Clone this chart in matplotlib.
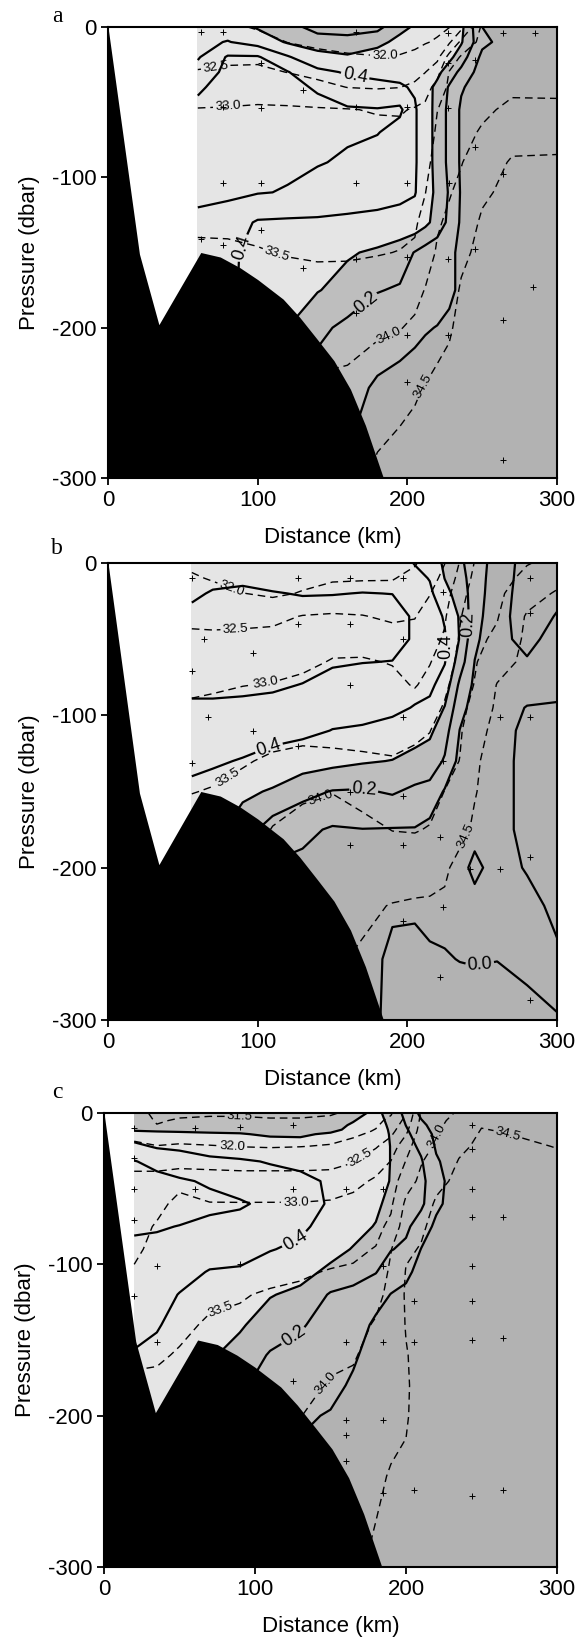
import numpy as np
import matplotlib.pyplot as plt

plt.rcParams['font.family'] = ['Liberation Sans', 'DejaVu Sans']
plt.rcParams['axes.unicode_minus'] = False
plt.rcParams['lines.dashed_pattern'] = [5.5, 3.5]

# shelf bottom profile (distance km, pressure dbar)
bottom_km = [0, 21, 34, 62, 75, 88, 100, 117, 128, 140, 151, 162, 172, 184]
bottom_db = [0, -151, -198, -150, -153, -160, -168, -181, -193, -208, -222, -241, -265, -300]

chl_labelled = [0.0, 0.2, 0.4]
chl_plain = [0.1, 0.3, 0.5]
sal_levels = [31.5, 32.0, 32.5, 33.0, 33.5, 34.0, 34.5]
shade_levels = [-1, 0.1, 0.3, 1]
shade_colors = ['#b2b2b2', '#bebebe', '#e5e5e5']

# ---------------- section a ----------------
xa = [60, 80, 100, 120, 140, 160, 180, 195, 205, 212, 220, 228, 236, 250, 270, 300]
pa = [0, -10, -20, -30, -40, -55, -70, -90, -110, -130, -150, -175, -200, -240, -300]
# rows: one per pressure level
chl_a = np.array([
    [0.35, 0.35, 0.29, 0.25, 0.15, 0.14, 0.17, 0.275, 0.31, 0.35, 0.35, 0.35, 0.325, 0.1, 0.05, 0.05],
    [0.375, 0.405, 0.36, 0.29, 0.265, 0.25, 0.275, 0.325, 0.35, 0.35, 0.35, 0.35, 0.31, 0.125, 0.05, 0.05],
    [0.39, 0.51, 0.51, 0.41, 0.325, 0.31, 0.34, 0.35, 0.35, 0.35, 0.35, 0.325, 0.25, 0.075, 0.05, 0.05],
    [0.44, 0.525, 0.525, 0.505, 0.425, 0.39, 0.375, 0.375, 0.375, 0.35, 0.325, 0.25, 0.175, 0.05, 0.05, 0.05],
    [0.485, 0.54, 0.55, 0.525, 0.49, 0.44, 0.425, 0.41, 0.39, 0.34, 0.275, 0.19, 0.11, 0.05, 0.05, 0.05],
    [0.525, 0.55, 0.55, 0.55, 0.525, 0.51, 0.505, 0.52, 0.41, 0.35, 0.265, 0.175, 0.085, 0.05, 0.05, 0.05],
    [0.55, 0.55, 0.55, 0.54, 0.525, 0.51, 0.505, 0.46, 0.41, 0.35, 0.265, 0.175, 0.085, 0.05, 0.05, 0.05],
    [0.54, 0.535, 0.525, 0.515, 0.505, 0.49, 0.45, 0.43, 0.41, 0.35, 0.265, 0.175, 0.085, 0.05, 0.05, 0.05],
    [0.525, 0.52, 0.505, 0.495, 0.47, 0.45, 0.435, 0.42, 0.405, 0.35, 0.275, 0.19, 0.09, 0.05, 0.05, 0.05],
    [0.475, 0.45, 0.39, 0.385, 0.385, 0.38, 0.375, 0.37, 0.365, 0.325, 0.26, 0.175, 0.085, 0.05, 0.05, 0.05],
    [0.45, 0.425, 0.36, 0.35, 0.335, 0.31, 0.285, 0.25, 0.195, 0.16, 0.14, 0.11, 0.09, 0.05, 0.05, 0.05],
    [0.45, 0.425, 0.35, 0.31, 0.305, 0.265, 0.205, 0.19, 0.16, 0.145, 0.13, 0.115, 0.085, 0.05, 0.05, 0.05],
    [0.45, 0.4, 0.325, 0.3, 0.225, 0.175, 0.14, 0.125, 0.115, 0.105, 0.098, 0.085, 0.07, 0.05, 0.05, 0.05],
    [0.45, 0.4, 0.3, 0.25, 0.15, 0.125, 0.09, 0.08, 0.07, 0.065, 0.06, 0.06, 0.055, 0.05, 0.05, 0.05],
    [0.4, 0.35, 0.25, 0.2, 0.12, 0.09, 0.07, 0.06, 0.05, 0.05, 0.05, 0.05, 0.05, 0.05, 0.05, 0.05],
])
# one profile per station distance
sal_a = np.array([
    [32.1, 32.25, 32.4, 32.52, 32.75, 33.02, 33.1, 33.2, 33.33, 33.45, 33.55, 33.7, 33.8, 34.0, 34.2],
    [32.1, 32.25, 32.4, 32.58, 32.8, 33.03, 33.1, 33.2, 33.32, 33.44, 33.55, 33.7, 33.85, 34.0, 34.2],
    [31.95, 32.2, 32.4, 32.6, 32.83, 33.05, 33.12, 33.22, 33.32, 33.42, 33.52, 33.7, 33.85, 34.0, 34.2],
    [31.8, 31.99, 32.25, 32.49, 32.77, 33.05, 33.12, 33.2, 33.3, 33.38, 33.48, 33.65, 33.85, 34.0, 34.2],
    [31.7, 31.88, 32.15, 32.37, 32.63, 33.04, 33.1, 33.18, 33.26, 33.35, 33.45, 33.65, 33.85, 34.05, 34.2],
    [31.6, 31.8, 32.07, 32.28, 32.49, 33.02, 33.1, 33.18, 33.28, 33.38, 33.47, 33.6, 33.8, 34.12, 34.3],
    [31.6, 31.8, 32.02, 32.25, 32.46, 32.97, 33.1, 33.2, 33.3, 33.4, 33.48, 33.7, 33.93, 34.25, 34.6],
    [31.7, 31.85, 32.03, 32.28, 32.49, 32.95, 33.12, 33.22, 33.32, 33.4, 33.51, 33.75, 33.98, 34.35, 34.7],
    [31.75, 31.9, 32.1, 32.33, 32.6, 33.05, 33.18, 33.28, 33.36, 33.45, 33.55, 33.85, 34.08, 34.45, 34.7],
    [31.85, 31.97, 32.22, 32.49, 32.83, 33.1, 33.2, 33.35, 33.49, 33.63, 33.78, 34.02, 34.2, 34.52, 34.75],
    [31.9, 32.05, 32.35, 32.85, 33.15, 33.49, 33.58, 33.7, 33.83, 33.95, 34.05, 34.2, 34.35, 34.6, 34.8],
    [31.98, 32.42, 33.2, 33.52, 33.6, 33.68, 33.76, 33.86, 33.97, 34.08, 34.18, 34.3, 34.45, 34.65, 34.8],
    [32.35, 33.12, 33.55, 33.62, 33.7, 33.8, 33.88, 33.98, 34.1, 34.25, 34.4, 34.55, 34.62, 34.72, 34.85],
    [33.6, 33.65, 33.72, 33.78, 33.85, 33.93, 34.04, 34.25, 34.43, 34.56, 34.62, 34.68, 34.72, 34.78, 34.85],
    [33.7, 33.75, 33.8, 33.86, 33.93, 34.08, 34.3, 34.55, 34.62, 34.66, 34.7, 34.72, 34.75, 34.8, 34.85],
    [33.7, 33.75, 33.8, 33.86, 33.93, 34.07, 34.3, 34.57, 34.62, 34.66, 34.7, 34.72, 34.75, 34.8, 34.85],
]).T
stations_a_km = [62, 77, 102, 130, 77, 102, 166, 200, 227, 166, 227, 264, 285, 227, 245,
                 77, 102, 166, 200, 228, 245, 264, 62, 77, 102, 130, 166, 200, 227, 245,
                 166, 200, 227, 264, 284, 200, 264]
stations_a_db = [-3, -3, -24, -42, -53, -54, -53, -53, -54, -3, -4, -4, -4, -24, -22,
                 -104, -104, -104, -104, -104, -80, -98, -141, -145, -135, -160, -154, -153, -154, -148,
                 -190, -205, -205, -195, -173, -236, -288]

# ---------------- section b ----------------
xb = [56, 70, 90, 110, 130, 150, 170, 190, 205, 215, 225, 235, 245, 260, 280, 300]
pb = [0, -10, -20, -35, -50, -65, -80, -95, -110, -130, -150, -175, -200, -225, -260, -300]
chl_b = np.array([
    [0.42, 0.45, 0.48, 0.53, 0.55, 0.55, 0.53, 0.48, 0.45, 0.42, 0.38, 0.35, 0.33, 0.31, 0.31, 0.31],
    [0.44, 0.47, 0.51, 0.55, 0.56, 0.55, 0.53, 0.48, 0.45, 0.41, 0.37, 0.33, 0.31, 0.31, 0.31, 0.31],
    [0.45, 0.48, 0.52, 0.56, 0.57, 0.56, 0.53, 0.47, 0.44, 0.395, 0.32, 0.25, 0.19, 0.14, 0.09, 0.09],
    [0.44, 0.47, 0.505, 0.55, 0.56, 0.55, 0.515, 0.47, 0.43, 0.37, 0.29, 0.15, 0.09, 0.08, 0.08, 0.08],
    [0.43, 0.46, 0.495, 0.54, 0.55, 0.54, 0.497, 0.46, 0.42, 0.35, 0.23, 0.12, 0.08, 0.07, 0.07, 0.07],
    [0.43, 0.46, 0.497, 0.54, 0.55, 0.51, 0.47, 0.43, 0.398, 0.33, 0.195, 0.09, 0.07, 0.06, 0.06, 0.06],
    [0.44, 0.47, 0.502, 0.54, 0.54, 0.502, 0.46, 0.43, 0.39, 0.31, 0.19, 0.098, 0.07, 0.06, 0.06, 0.06],
    [0.46, 0.48, 0.499, 0.53, 0.53, 0.498, 0.46, 0.42, 0.37, 0.297, 0.21, 0.095, 0.05, 0.02, -0.03, -0.04],
    [0.395, 0.43, 0.46, 0.49, 0.49, 0.46, 0.43, 0.395, 0.34, 0.27, 0.18, 0.095, 0.04, 0.01, -0.02, -0.04],
    [0.37, 0.395, 0.42, 0.45, 0.46, 0.45, 0.42, 0.38, 0.32, 0.25, 0.17, 0.07, 0.03, 0.02, -0.01, -0.04],
    [0.28, 0.298, 0.33, 0.39, 0.41, 0.405, 0.36, 0.295, 0.24, 0.19, 0.09, 0.05, 0.04, 0.02, -0.005, -0.04],
    [0.22, 0.24, 0.26, 0.29, 0.295, 0.25, 0.18, 0.135, 0.098, 0.07, 0.05, 0.05, 0.04, 0.02, 0.002, -0.04],
    [0.15, 0.15, 0.15, 0.14, 0.12, 0.098, 0.08, 0.06, 0.05, 0.05, 0.05, 0.04, -0.03, 0.04, 0.005, -0.04],
    [0.06, 0.05, 0.04, 0.03, 0.03, 0.04, 0.05, 0.05, 0.05, 0.05, 0.05, 0.05, 0.05, 0.04, 0.002, -0.05],
    [-0.04, -0.04, -0.04, -0.04, -0.03, 0.01, 0.05, -0.005, -0.03, -0.04, -0.04, -0.04, -0.01, 0.04, 0.03, -0.04],
    [-0.04, -0.03, -0.02, 0.005, 0.04, 0.05, 0.03, -0.01, -0.03, -0.04, -0.04, -0.04, -0.04, -0.03, 0.02, -0.003],
]).T
sal_b = np.array([
    [31.95, 32.03, 32.13, 32.38, 32.6, 32.78, 32.93, 33.05, 33.2, 33.37, 33.49, 33.65, 33.8, 33.9, 33.98, 34.1],
    [31.9, 31.98, 32.08, 32.35, 32.6, 32.8, 32.95, 33.08, 33.22, 33.4, 33.52, 33.67, 33.8, 33.9, 33.98, 34.1],
    [31.8, 31.88, 32.01, 32.38, 32.6, 32.8, 32.99, 33.15, 33.3, 33.47, 33.6, 33.75, 33.85, 33.95, 34.05, 34.1],
    [31.75, 31.82, 31.92, 32.38, 32.65, 32.85, 33.02, 33.2, 33.38, 33.55, 33.8, 34.02, 34.1, 34.2, 34.3, 34.4],
    [31.8, 31.88, 32.03, 32.52, 32.75, 32.9, 33.1, 33.25, 33.42, 33.58, 33.95, 34.1, 34.2, 34.3, 34.4, 34.45],
    [31.85, 31.95, 32.15, 32.55, 32.85, 33.03, 33.15, 33.27, 33.42, 33.56, 33.99, 34.15, 34.3, 34.4, 34.45, 34.52],
    [31.88, 31.97, 32.15, 32.52, 32.85, 33.04, 33.15, 33.27, 33.39, 33.55, 33.86, 34.12, 34.28, 34.42, 34.55, 34.6],
    [31.9, 31.98, 32.12, 32.42, 32.7, 32.98, 33.1, 33.22, 33.35, 33.53, 33.72, 33.99, 34.25, 34.52, 34.6, 34.65],
    [31.97, 32.1, 32.25, 32.48, 32.65, 32.82, 32.97, 33.18, 33.43, 33.58, 33.75, 33.97, 34.3, 34.55, 34.62, 34.67],
    [32.15, 32.3, 32.48, 32.7, 32.85, 32.98, 33.12, 33.32, 33.49, 33.63, 33.8, 34.03, 34.35, 34.55, 34.62, 34.67],
    [32.49, 32.65, 32.8, 32.95, 33.05, 33.2, 33.4, 33.55, 33.68, 33.8, 34.01, 34.25, 34.45, 34.55, 34.62, 34.67],
    [33.02, 33.15, 33.3, 33.45, 33.55, 33.65, 33.75, 33.85, 33.93, 34.01, 34.15, 34.4, 34.6, 34.65, 34.68, 34.7],
    [33.52, 33.62, 33.72, 33.85, 33.9, 33.96, 34.02, 34.15, 34.35, 34.45, 34.48, 34.55, 34.62, 34.67, 34.7, 34.72],
    [33.8, 33.85, 33.9, 33.97, 34.08, 34.3, 34.52, 34.58, 34.62, 34.65, 34.67, 34.68, 34.7, 34.7, 34.72, 34.72],
    [33.98, 34.1, 34.3, 34.55, 34.6, 34.62, 34.64, 34.66, 34.67, 34.68, 34.69, 34.7, 34.7, 34.71, 34.72, 34.72],
    [34.1, 34.35, 34.55, 34.6, 34.62, 34.64, 34.66, 34.67, 34.68, 34.69, 34.7, 34.7, 34.71, 34.72, 34.72, 34.72],
]).T
stations_b_km = [56, 64, 56, 97, 127, 127, 162, 162, 162, 197, 197, 197, 224, 224, 222, 224, 222,
                 67, 56, 97, 127, 162, 162, 197, 197, 197, 242, 262, 282, 282, 282, 282, 262, 282]
stations_b_db = [-10, -50, -71, -59, -40, -10, -10, -40, -80, -10, -50, -101, -19, -130, -180, -226, -272,
                 -101, -131, -110, -120, -150, -185, -153, -185, -235, -201, -201, -193, -101, -33, -10, -101, -287]

# ---------------- section c ----------------
xc = [20, 35, 50, 70, 90, 110, 130, 150, 165, 180, 190, 200, 210, 220, 235, 250, 270, 300]
pc_chl = [0, -8, -11, -14, -22, -32, -45, -60, -75, -90, -105, -120, -140, -160, -180, -200, -240, -300]
pc_sal = [0, -5, -12, -22, -32, -45, -60, -75, -90, -105, -120, -140, -160, -180, -200, -240, -300]
chl_c = np.array([
    [0.26, 0.27, 0.28, 0.36, 0.42, 0.505, 0.55, 0.56, 0.52, 0.47, 0.45, 0.44, 0.42, 0.395, 0.35, 0.31, 0.31, 0.31],
    [0.26, 0.27, 0.28, 0.33, 0.39, 0.47, 0.53, 0.56, 0.51, 0.47, 0.45, 0.43, 0.41, 0.37, 0.34, 0.31, 0.31, 0.31],
    [0.26, 0.27, 0.28, 0.32, 0.38, 0.45, 0.51, 0.55, 0.497, 0.46, 0.43, 0.397, 0.36, 0.33, 0.32, 0.31, 0.31, 0.31],
    [0.26, 0.27, 0.28, 0.31, 0.36, 0.42, 0.49, 0.52, 0.48, 0.44, 0.395, 0.37, 0.34, 0.31, 0.31, 0.31, 0.31, 0.31],
    [0.26, 0.27, 0.28, 0.305, 0.35, 0.41, 0.46, 0.51, 0.47, 0.43, 0.39, 0.36, 0.31, 0.27, 0.22, 0.18, 0.15, 0.15],
    [0.26, 0.27, 0.28, 0.29, 0.34, 0.395, 0.43, 0.48, 0.44, 0.405, 0.35, 0.305, 0.26, 0.19, 0.15, 0.12, 0.09, 0.09],
    [0.26, 0.27, 0.28, 0.29, 0.33, 0.38, 0.42, 0.44, 0.42, 0.38, 0.33, 0.28, 0.21, 0.17, 0.14, 0.11, 0.08, 0.08],
    [0.26, 0.27, 0.28, 0.31, 0.34, 0.37, 0.39, 0.39, 0.36, 0.33, 0.28, 0.19, 0.16, 0.14, 0.12, 0.095, 0.07, 0.06],
    [0.27, 0.31, 0.32, 0.34, 0.35, 0.36, 0.37, 0.36, 0.33, 0.295, 0.23, 0.18, 0.14, 0.11, 0.09, 0.07, 0.06, 0.05],
    [0.32, 0.335, 0.34, 0.345, 0.35, 0.35, 0.34, 0.32, 0.295, 0.25, 0.205, 0.13, 0.085, 0.07, 0.06, 0.05, 0.05, 0.05],
    [0.27, 0.285, 0.29, 0.293, 0.297, 0.297, 0.295, 0.27, 0.24, 0.205, 0.14, 0.098, 0.07, 0.06, 0.05, 0.05, 0.05, 0.05],
    [0.17, 0.198, 0.21, 0.22, 0.24, 0.26, 0.27, 0.25, 0.22, 0.18, 0.12, 0.08, 0.06, 0.05, 0.05, 0.05, 0.05, 0.05],
    [0.08, 0.12, 0.135, 0.15, 0.18, 0.21, 0.23, 0.22, 0.15, 0.098, 0.07, 0.06, 0.05, 0.05, 0.05, 0.05, 0.05, 0.05],
    [0.05, 0.065, 0.07, 0.08, 0.09, 0.11, 0.13, 0.12, 0.08, 0.06, 0.05, 0.05, 0.05, 0.05, 0.05, 0.05, 0.05, 0.05],
    [0.05] * 18,
    [0.05] * 18,
    [0.05] * 18,
    [0.05] * 18,
]).T
sal_c = np.array([
    [31.75, 31.8, 31.9, 32.05, 32.4, 32.6, 32.7, 32.8, 32.9, 33.05, 33.2, 33.35, 33.45, 33.55, 33.65, 33.8, 33.98],
    [31.35, 31.45, 31.6, 32.02, 32.35, 32.65, 32.85, 33.05, 33.15, 33.25, 33.32, 33.4, 33.47, 33.55, 33.65, 33.8, 33.98],
    [31.4, 31.55, 31.75, 32.05, 32.3, 32.85, 33.15, 33.22, 33.28, 33.33, 33.38, 33.45, 33.52, 33.6, 33.7, 33.85, 33.98],
    [31.42, 31.6, 31.75, 32.02, 32.32, 32.75, 33.02, 33.15, 33.25, 33.35, 33.45, 33.53, 33.6, 33.7, 33.8, 33.9, 33.98],
    [31.42, 31.6, 31.75, 31.99, 32.32, 32.7, 33.02, 33.15, 33.27, 33.4, 33.48, 33.55, 33.62, 33.7, 33.8, 33.9, 33.98],
    [31.4, 31.55, 31.72, 31.97, 32.3, 32.72, 33.02, 33.17, 33.3, 33.42, 33.53, 33.65, 33.75, 33.85, 33.95, 34.1, 34.2],
    [31.4, 31.55, 31.75, 31.99, 32.3, 32.72, 33.02, 33.2, 33.35, 33.46, 33.56, 33.7, 33.8, 33.9, 33.99, 34.15, 34.3],
    [31.45, 31.6, 31.8, 32.03, 32.32, 32.75, 33.05, 33.22, 33.38, 33.52, 33.65, 33.8, 33.93, 34.03, 34.15, 34.3, 34.4],
    [31.6, 31.72, 31.88, 32.15, 32.47, 32.88, 33.12, 33.28, 33.42, 33.55, 33.68, 33.83, 33.95, 34.1, 34.2, 34.35, 34.45],
    [31.8, 31.9, 32.03, 32.45, 32.8, 33.06, 33.22, 33.38, 33.52, 33.7, 33.85, 34.05, 34.2, 34.3, 34.38, 34.45, 34.55],
    [31.95, 32.1, 32.35, 32.75, 33.01, 33.25, 33.42, 33.6, 33.98, 34.08, 34.15, 34.22, 34.3, 34.37, 34.42, 34.52, 34.6],
    [32.48, 32.65, 32.9, 33.3, 33.52, 33.8, 34.1, 34.3, 34.45, 34.52, 34.55, 34.52, 34.48, 34.46, 34.47, 34.55, 34.65],
    [33.55, 33.62, 33.72, 33.85, 33.97, 34.1, 34.3, 34.45, 34.52, 34.56, 34.58, 34.6, 34.62, 34.63, 34.64, 34.66, 34.7],
    [33.82, 33.88, 33.95, 34.05, 34.2, 34.4, 34.55, 34.6, 34.62, 34.63, 34.64, 34.65, 34.66, 34.67, 34.68, 34.7, 34.72],
    [34.05, 34.15, 34.28, 34.42, 34.52, 34.58, 34.62, 34.64, 34.65, 34.66, 34.67, 34.68, 34.69, 34.7, 34.7, 34.72, 34.74],
    [34.35, 34.45, 34.52, 34.58, 34.62, 34.64, 34.65, 34.66, 34.67, 34.68, 34.68, 34.69, 34.7, 34.7, 34.71, 34.72, 34.74],
    [34.3, 34.4, 34.48, 34.56, 34.6, 34.63, 34.65, 34.66, 34.67, 34.68, 34.68, 34.69, 34.7, 34.7, 34.71, 34.72, 34.74],
    [34.25, 34.32, 34.42, 34.49, 34.56, 34.6, 34.63, 34.65, 34.66, 34.67, 34.68, 34.69, 34.7, 34.7, 34.71, 34.72, 34.74],
]).T
stations_c_km = [20, 20, 20, 20, 20, 35, 35, 60, 60, 90, 90, 125, 125, 125, 160, 160, 160, 160, 160,
                 185, 185, 185, 185, 185, 205, 205, 205, 244, 244, 244, 244, 264, 244, 244, 244, 264, 244, 264]
stations_c_db = [-10, -30, -50, -71, -121, -101, -151, -10, -50, -9, -100, -8, -50, -177, -50, -151, -203, -213, -230,
                 -50, -101, -151, -203, -251, -124, -151, -249, -8, -24, -50, -69, -69, -101, -124, -150, -149, -253, -249]

# label anchor points along the contours
chl_marks_a = [(165, -33), (85, -145), (172, -183)]
sal_marks_a = [(185, -20), (72, -27), (80, -52), (113, -150), (188, -206), (212, -240)]
chl_marks_b = [(227, -55), (107, -120), (171, -148), (241, -40), (248, -262)]
sal_marks_b = [(83, -15), (85, -42), (105, -78), (80, -141), (140, -149), (241, -180)]
chl_marks_c = [(127, -85), (127, -150)]
sal_marks_c = [(90, -2), (85, -22), (170, -30), (127, -57), (78, -133), (150, -181), (217, -14), (267, -16)]


def draw_section(ax, x, p_chl, chl, p_sal, sal, chl_marks, sal_marks, st_km, st_db):
    ax.set_xlim(0, 300)
    ax.set_ylim(-300, 0)
    Xc, Pc = np.meshgrid(x, p_chl)
    Xs, Ps = np.meshgrid(x, p_sal)
    ax.contourf(Xc, Pc, chl, levels=shade_levels, colors=shade_colors, zorder=1)
    # even levels carry labels, odd ones are drawn plain
    cs_lab = ax.contour(Xc, Pc, chl, levels=chl_labelled, colors='k', linewidths=1.6, zorder=2)
    ax.contour(Xc, Pc, chl, levels=chl_plain, colors='k', linewidths=1.6, zorder=2)
    cs_s = ax.contour(Xs, Ps, sal, levels=sal_levels, colors='k', linewidths=1.0,
                      linestyles='dashed', zorder=2)
    ax.plot(st_km, st_db, '+', color='k', ms=5, mew=0.7, zorder=3)
    ax.fill_between(bottom_km, bottom_db, -300, color='k', lw=0, zorder=5)

    ax.set_xticks([0, 100, 200, 300])
    ax.set_yticks([-300, -200, -100, 0])
    ax.tick_params(labelsize=16, length=5, width=1.3, direction='out')
    for s in ax.spines.values():
        s.set_linewidth(1.5)
        s.set_zorder(6)
    ax.set_ylabel('Pressure (dbar)', fontsize=16, labelpad=8)
    ax.set_xlabel('Distance (km)', fontsize=16, labelpad=12)

    ax.clabel(cs_lab, fmt='%.1f', fontsize=13, inline_spacing=2, manual=chl_marks)
    ax.clabel(cs_s, fmt='%.1f', fontsize=9.5, inline_spacing=2, manual=sal_marks)


fig = plt.figure(figsize=(5.88, 16.39), dpi=100)
ax_a = fig.add_axes([108 / 588, 1 - 478 / 1639, 449 / 588, 451 / 1639])
ax_b = fig.add_axes([108 / 588, 1 - 1020 / 1639, 449 / 588, 457 / 1639])
ax_c = fig.add_axes([104 / 588, 1 - 1567 / 1639, 453 / 588, 454 / 1639])

draw_section(ax_a, xa, pa, chl_a, pa, sal_a, chl_marks_a, sal_marks_a,
             stations_a_km, stations_a_db)
draw_section(ax_b, xb, pb, chl_b, pb, sal_b, chl_marks_b, sal_marks_b,
             stations_b_km, stations_b_db)
draw_section(ax_c, xc, pc_chl, chl_c, pc_sal, sal_c, chl_marks_c, sal_marks_c,
             stations_c_km, stations_c_db)

for letter, y in [('a', 17), ('b', 548), ('c', 1093)]:
    fig.text(57 / 588, 1 - y / 1639, letter, family='Liberation Serif', fontsize=17,
             ha='center', va='center')

fig.savefig('out.png', dpi=100)
